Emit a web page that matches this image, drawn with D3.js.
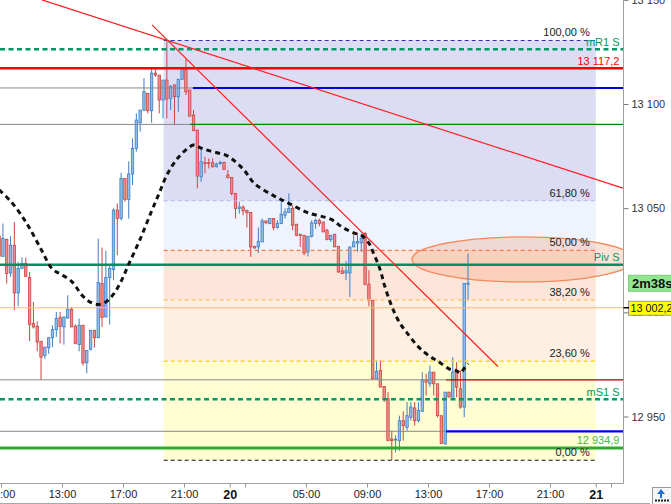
<!DOCTYPE html>
<html><head><meta charset="utf-8">
<script src="https://cdn.jsdelivr.net/npm/d3@7"></script>
<style>
body{margin:0;background:#fff;overflow:hidden;}
svg{display:block;font-family:"Liberation Sans",Arial,sans-serif;}
</style>
</head><body>
<svg id="c" width="671" height="504"></svg>
<script>
// ---------------- DATA ----------------
const firstCandle = "2019-11-19T08:45:00Z";   // 15-minute candles
const candleMinutes = 15;
const opens = [13036.6,13026.9,13035.0,13018.9,13032.2,13009.3,13021.0,13023.4,13016.7,12994.6,
12993.3,12986.1,12979.3,12983.0,12987.8,12991.7,12997.5,12993.0,12997.3,13001.5,
12993.4,12984.5,12993.8,12975.8,12982.2,12991.4,12987.8,13013.8,12997.8,13016.7,
13020.5,13049.1,13045.0,13064.3,13054.2,13066.4,13078.7,13091.0,13097.1,13105.1,
13096.8,13114.8,13113.9,13101.9,13111.5,13102.7,13109.2,13103.5,13111.9,13116.4,
13106.7,13094.7,13087.5,13065.1,13071.8,13071.8,13071.8,13069.9,13071.5,13071.9,
13065.9,13064.7,13057.1,13049.9,13050.6,13049.0,13047.9,13031.7,13031.4,13033.8,
13043.9,13042.6,13045.0,13040.7,13042.6,13046.6,13047.9,13049.9,13042.3,13037.5,
13037.0,13029.0,13036.5,13042.6,13044.2,13043.4,13039.4,13034.9,13037.5,13031.7,
13019.9,13018.9,13018.9,13031.4,13033.2,13033.3,13037.8,13013.5,13005.8,12968.1,
12972.1,12964.4,12958.5,12939.2,12938.8,12938.4,12948.0,12944.8,12949.6,12954.1,
12948.0,12952.5,12967.6,12965.7,12971.3,12965.7,12950.4,12936.8,12961.7,12959.3,
12971.3,12963.3,12954.5,13013.5];
const highs = [13037.0,13042.6,13035.4,13036.6,13043.4,13024.2,13026.3,13026.3,13019.4,13005.0,
12995.7,12986.1,12983.3,12988.2,12993.8,13000.2,13000.2,12997.8,13008.2,13002.6,
12994.2,12997.0,12993.8,12981.7,12991.4,12991.4,13035.4,13031.1,13029.5,13022.6,
13049.9,13052.3,13067.0,13064.3,13072.5,13083.5,13095.5,13097.1,13112.4,13105.1,
13116.7,13116.7,13113.9,13111.5,13130.5,13109.2,13109.2,13111.9,13116.7,13121.5,
13106.7,13097.1,13087.5,13078.7,13074.7,13073.9,13073.9,13071.8,13072.8,13072.3,
13068.3,13064.7,13057.1,13053.1,13051.4,13049.0,13047.9,13031.7,13040.7,13045.0,
13043.9,13045.0,13045.0,13044.2,13054.3,13049.9,13057.1,13051.4,13042.3,13037.5,
13037.0,13036.5,13044.2,13045.0,13045.0,13043.4,13040.2,13037.0,13037.5,13031.7,
13021.8,13024.7,13031.4,13038.6,13038.1,13037.8,13038.6,13020.2,13005.8,12976.9,
12976.9,12964.4,12961.7,12943.2,12941.0,12950.4,12952.5,12956.9,12956.9,12956.9,
12956.9,12971.3,12970.5,12974.5,12971.3,12965.7,12950.4,12961.7,12961.7,12978.5,
12976.1,12972.1,13013.8,13028.2];
const lows = [13026.5,13026.5,13013.8,13017.0,13001.0,13002.9,13020.8,13017.3,12986.2,12992.2,
12981.3,12967.6,12977.7,12980.1,12983.3,12988.2,12985.0,12984.5,12997.0,12993.0,
12984.6,12981.3,12974.5,12970.8,12981.7,12983.0,12987.8,12993.0,12997.5,12994.1,
13015.4,13027.4,13044.2,13053.1,13045.0,13061.1,13077.1,13086.7,13096.5,13095.5,
13091.0,13113.0,13095.5,13093.1,13093.1,13097.1,13090.2,13096.3,13111.5,13104.3,
13094.0,13087.2,13059.5,13062.7,13066.7,13069.1,13069.5,13069.5,13070.8,13068.3,
13064.2,13056.2,13045.0,13047.4,13046.6,13040.7,13026.6,13030.6,13028.5,13033.8,
13042.3,13042.3,13039.4,13040.2,13042.3,13045.0,13047.9,13039.4,13036.5,13031.4,
13027.4,13026.9,13035.9,13040.2,13041.3,13038.6,13034.6,13033.8,13031.4,13018.9,
13018.6,13015.4,13007.4,13031.4,13029.0,13029.0,13013.0,13002.9,12967.6,12968.1,
12964.1,12956.9,12938.1,12929.1,12932.8,12933.6,12938.4,12943.2,12948.0,12945.6,
12947.2,12952.1,12960.1,12964.1,12960.1,12949.6,12936.8,12936.5,12959.3,12959.3,
12959.3,12953.7,12949.7,13005.8];
const closes = [13026.9,13035.4,13018.6,13032.2,13009.3,13021.0,13023.4,13017.3,12994.2,12993.0,
12985.8,12978.5,12983.3,12987.8,12991.7,12997.0,12993.3,12997.8,13001.5,12993.0,
12985.0,12993.8,12975.7,12981.7,12991.4,12987.8,13014.3,12997.5,13016.7,13021.0,
13049.1,13045.0,13064.3,13054.2,13066.4,13078.7,13092.3,13097.1,13105.9,13096.8,
13114.8,13113.9,13101.9,13111.5,13102.4,13108.4,13103.5,13111.9,13116.7,13105.9,
13094.2,13087.2,13065.4,13072.3,13071.5,13071.5,13069.9,13071.2,13071.9,13068.6,
13064.7,13057.1,13049.8,13050.6,13048.7,13047.8,13031.4,13030.9,13034.1,13043.9,
13043.0,13045.0,13040.7,13042.6,13047.1,13048.2,13049.9,13041.8,13037.0,13036.9,
13028.5,13036.5,13042.9,13044.2,13042.6,13038.6,13034.9,13037.0,13031.4,13019.4,
13018.6,13019.9,13031.4,13033.8,13034.0,13035.4,13013.5,13005.8,12968.1,12971.6,
12964.1,12958.5,12938.5,12938.4,12939.1,12948.0,12945.6,12950.4,12954.5,12948.0,
12952.9,12967.6,12966.5,12971.3,12965.7,12950.4,12937.1,12961.7,12959.3,12971.3,
12964.1,12954.5,13013.8,13014.0];

// moving average (dashed black), sampled at candle indices
const maIndex  = [0,3,6,8,11,14,16,19,22,24,26,28,30,32,34,37,40,42,44,47,51,53,55,58,60,64,67,72,76,81,87,90,93,95,97,98,100,101,103,105,107,110,113,115,118,120,121,122,123];
const maValues = [13058.8,13053.4,13046.2,13040.4,13030.3,13020.7,13018.5,13014.9,13007.7,13004.8,13003.8,13005.0,13008.7,13014.9,13023.1,13035.1,13048.6,13057.2,13065.9,13074.3,13080.3,13078.8,13077.6,13076.2,13075.0,13068.8,13061.8,13056.0,13052.3,13047.8,13044.7,13040.9,13038.1,13037.0,13033.2,13029.3,13020.2,13013.5,13002.9,12995.2,12990.1,12983.4,12978.8,12976.7,12972.9,12971.9,12970.9,12973.1,12975.5];

// horizontal levels
const levelPrices = [13126.3, 13117.2, 13107.7, 13090.2, 13022.8, 13002.2, 12967.6, 12958.3, 12942.9, 12934.9];
const levelLabels = ["mR1 S", "13 117,2", "", "", "Piv S", "", "", "mS1 S", "", "12 934,9"];
const levelStarts = [null, null, "2019-11-19T21:35:00Z", "2019-11-19T21:23:00Z", null, null, "2019-11-20T14:11:00Z", null, "2019-11-20T14:11:00Z", null];

// Fibonacci retracement
const fibHigh = 13130.5, fibLow = 12929.0;
const fibStart = "2019-11-19T19:40:00Z", fibEnd = "2019-11-21T00:00:00Z";
const fibRatios = [1, 0.618, 0.5, 0.382, 0.236, 0];
const fibLabels = ["100,00 %", "61,80 %", "50,00 %", "38,20 %", "23,60 %", "0,00 %"];

// trend lines [t1, p1, t2, p2]
const trendT1 = ["2019-11-19T11:41:00Z", "2019-11-19T18:54:00Z"];
const trendP1 = [13150.0, 13138.0];
const trendT2 = ["2019-11-21T01:47:00Z", "2019-11-20T17:35:00Z"];
const trendP2 = [13059.6, 12974.0];

// ellipse (time span and price span)
const ellipseT = ["2019-11-20T11:57:00Z", "2019-11-21T02:31:00Z"];
const ellipseP = [13014.6, 13036.2];

// price axis / time axis
const priceTicks = [12950, 13000, 13050, 13100, 13150];
const lastPrice = "13 002,2";
const timerLabel = "2m38s";

// ---------------- CHART ----------------
const svg = d3.select("#c");
const plotR = 623.5, plotB = 483.5;
const x = d3.scaleUtc()
  .domain([new Date(Date.UTC(2019,10,19,13)), new Date(Date.UTC(2019,10,20,17))])
  .range([62, 489]);
const y = d3.scaleLinear().domain([12950, 13100]).range([416.5, 104]);

const t0 = Date.parse(firstCandle);
const candles = opens.map((o, i) => ({
  t: new Date(t0 + (i * candleMinutes + candleMinutes / 2) * 60000),
  o, h: highs[i], l: lows[i], c: closes[i]
}));

svg.append("defs").append("clipPath").attr("id", "plot")
  .append("rect").attr("x", 0).attr("y", 0).attr("width", plotR).attr("height", plotB);
const g = svg.append("g").attr("clip-path", "url(#plot)");

// fib bands
const fx1 = x(new Date(fibStart)), fx2 = x(new Date(fibEnd));
const fibPrice = r => fibLow + r * (fibHigh - fibLow);
const bandColors = ["#dcdcf5", "#eff3fd", "#fde5d9", "#feefe3", "#fefed2"];
for (let k = 0; k < fibRatios.length - 1; k++) {
  const ya = y(fibPrice(fibRatios[k])), yb = y(fibPrice(fibRatios[k + 1]));
  g.append("rect").attr("x", fx1).attr("y", ya).attr("width", fx2 - fx1).attr("height", yb - ya)
    .attr("fill", bandColors[k]);
}

// ellipse
const ex1 = x(new Date(ellipseT[0])), ex2 = x(new Date(ellipseT[1]));
const ey1 = y(ellipseP[1]), ey2 = y(ellipseP[0]);
g.append("ellipse").attr("cx", (ex1 + ex2) / 2).attr("cy", (ey1 + ey2) / 2)
  .attr("rx", (ex2 - ex1) / 2).attr("ry", (ey2 - ey1) / 2)
  .attr("fill", "rgba(246,150,110,0.28)").attr("stroke", "#f28a5a").attr("stroke-width", 1.3);

// candles
const upStroke = "#3f7ec6", upFill = "#93bde8", dnStroke = "#cc4444", dnFill = "#ef8c8c";
const cg = g.append("g");
candles.forEach(d => {
  const cx = x(d.t), up = d.c >= d.o;
  cg.append("line").attr("x1", cx).attr("x2", cx).attr("y1", y(d.h)).attr("y2", y(d.l))
    .attr("stroke", up ? upStroke : dnStroke).attr("stroke-width", 1);
  const yt = y(Math.max(d.o, d.c)), yb = y(Math.min(d.o, d.c));
  cg.append("rect").attr("x", cx - 1.2).attr("y", yt).attr("width", 2.4)
    .attr("height", Math.max(0.8, yb - yt))
    .attr("fill", up ? upFill : dnFill).attr("stroke", up ? upStroke : dnStroke).attr("stroke-width", 0.8);
});

// horizontal levels
const levelStyle = [
  {stroke: "#009966", w: 2.5, dash: "5,3.5", text: "#009966"},
  {stroke: "#ff0000", w: 2.5, text: "#ff0000"},
  {stroke: "#0000dd", w: 2},
  {stroke: "#008000", w: 1.2},
  {stroke: "#009060", w: 2.5, text: "#009966"},
  {stroke: "#ffb870", w: 1.2},
  {stroke: "#990000", w: 1.2},
  {stroke: "#009966", w: 2.5, dash: "5,3.5", text: "#009966"},
  {stroke: "#0000ee", w: 2.2},
  {stroke: "#2eaa2e", w: 3, text: "#44bb44"}
];
levelPrices.forEach((p, i) => {
  const yy = y(p), st = levelStyle[i];
  let xs = 0;
  if (levelStarts[i]) {
    xs = x(new Date(levelStarts[i]));
    g.append("line").attr("x1", 0).attr("x2", xs).attr("y1", yy).attr("y2", yy)
      .attr("stroke", "#888").attr("stroke-width", 1);
  }
  const ln = g.append("line").attr("x1", xs).attr("x2", plotR).attr("y1", yy).attr("y2", yy)
    .attr("stroke", st.stroke).attr("stroke-width", st.w);
  if (st.dash) ln.attr("stroke-dasharray", st.dash);
});

// fib lines + labels
const fibLineColors = ["#3030bb", "#aabbee", "#f08050", "#ffbf60", "#f2e200", "#111"];
fibRatios.forEach((r, k) => {
  const yy = y(fibPrice(r));
  g.append("line").attr("x1", fx1).attr("x2", fx2).attr("y1", yy).attr("y2", yy)
    .attr("stroke", fibLineColors[k]).attr("stroke-width", k === 4 ? 1.4 : 1.1)
    .attr("stroke-dasharray", "4,3");
  g.append("text").attr("x", fx2 - 6).attr("y", yy - 4).attr("text-anchor", "end")
    .attr("font-size", 11).attr("fill", "#222").text(fibLabels[k]);
});

// level labels
levelPrices.forEach((p, i) => {
  if (!levelLabels[i]) return;
  g.append("text").attr("x", 619.5).attr("y", y(p) - 3.5).attr("text-anchor", "end")
    .attr("font-size", 11).attr("fill", levelStyle[i].text).text(levelLabels[i]);
});

// moving average
const maLine = d3.line().x(d => x(candles[d[0]].t)).y(d => y(d[1])).curve(d3.curveCatmullRom);
g.append("path").datum(maIndex.map((k, i) => [k, maValues[i]]))
  .attr("d", maLine).attr("fill", "none").attr("stroke", "#111")
  .attr("stroke-width", 3).attr("stroke-dasharray", "5,4");

// trend lines
trendT1.forEach((t, i) => {
  g.append("line").attr("x1", x(new Date(t))).attr("y1", y(trendP1[i]))
    .attr("x2", x(new Date(trendT2[i]))).attr("y2", y(trendP2[i]))
    .attr("stroke", "#ff2020").attr("stroke-width", 1.2);
});

// ---------- axes ----------
svg.append("line").attr("x1", plotR).attr("x2", plotR).attr("y1", 0).attr("y2", plotB)
  .attr("stroke", "#a0a0a0");
svg.append("line").attr("x1", 0).attr("x2", plotR).attr("y1", plotB).attr("y2", plotB)
  .attr("stroke", "#a0a0a0");
svg.append("line").attr("x1", 0).attr("x2", 650).attr("y1", 503.5).attr("y2", 503.5)
  .attr("stroke", "#a8a8a8");

const fmtPrice = d => d3.format(",")(d).replace(/,/g, " ");
const ya = svg.append("g").attr("transform", `translate(${plotR},0)`)
  .call(d3.axisRight(y).tickValues(priceTicks).tickFormat(fmtPrice).tickSize(5).tickPadding(3));
ya.select(".domain").remove();
ya.selectAll("line").attr("stroke", "#777");
ya.selectAll("text").attr("font-size", 11).attr("fill", "#333").attr("font-family", "Liberation Sans, Arial, sans-serif");

const timeTicks = d3.utcHour.range(new Date(Date.UTC(2019,10,19,9)), new Date(Date.UTC(2019,10,21,2)), 4)
  .concat([new Date(Date.UTC(2019,10,20,0)), new Date(Date.UTC(2019,10,21,0))]);
const fmtTime = d => {
  const h = d.getUTCHours();
  if (h === 0) return String(d.getUTCDate());
  if (h === 1) return "";
  return (h < 10 ? "0" : "") + h + ":00";
};
const xa = svg.append("g").attr("transform", `translate(0,${plotB})`)
  .call(d3.axisBottom(x).tickValues(timeTicks).tickFormat(fmtTime).tickSize(4).tickPadding(3));
xa.select(".domain").remove();
xa.selectAll("line").attr("stroke", "#999");
xa.selectAll("text").attr("font-size", 11).attr("fill", "#222").attr("font-family", "Liberation Sans, Arial, sans-serif");
xa.selectAll(".tick").filter(d => d.getUTCHours() === 0).select("text")
  .attr("font-weight", "bold").attr("font-size", 12.5).attr("fill", "#111");

// timer + last price boxes
const yTimer = (y(levelPrices[4]) + y(levelPrices[5])) / 2 - 3;
svg.append("rect").attr("x", 628.5).attr("y", yTimer - 8).attr("width", 48).attr("height", 16)
  .attr("fill", "#92e692").attr("stroke", "#7ccc7c");
svg.append("text").attr("x", 632).attr("y", yTimer + 4.5).attr("font-size", 13).attr("font-weight", "bold")
  .attr("fill", "#111").text(timerLabel);
const yLast = y(levelPrices[5]);
svg.append("rect").attr("x", 628.5).attr("y", yLast - 6.5).attr("width", 48).attr("height", 14)
  .attr("fill", "#ffff00").attr("stroke", "#999");
svg.append("line").attr("x1", plotR).attr("x2", 629).attr("y1", yLast).attr("y2", yLast)
  .attr("stroke", "#000").attr("stroke-width", 1.5);
svg.append("text").attr("x", 630.5).attr("y", yLast + 4.2).attr("font-size", 10.8).attr("fill", "#111").text(lastPrice);

// small corner button
const bt = svg.append("g");
bt.append("rect").attr("x", 652.5).attr("y", 487.5).attr("width", 20).attr("height", 17)
  .attr("fill", "#f6f6f6").attr("stroke", "#999");
bt.append("path").attr("d", "M661,489 L657,494 L660,494 L660,498 L662,498 L662,494 L665,494 Z").attr("fill", "#1f6fd6");
[655, 658, 661, 664, 667].forEach(px => {
  bt.append("rect").attr("x", px).attr("y", 499.5).attr("width", 2).attr("height", 2).attr("fill", "#222");
});
</script>
</body></html>
